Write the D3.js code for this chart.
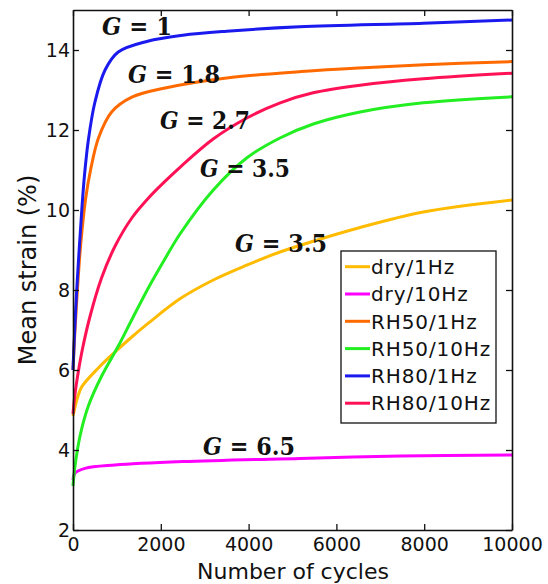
<!DOCTYPE html>
<html><head><meta charset="utf-8">
<script src="https://cdn.jsdelivr.net/npm/d3@7"></script>
<style>body{margin:0;background:#fff}svg{display:block}</style>
</head><body>
<script>
// ---- data (cycles, mean strain %) ----
const seriesNames = ["dry/1Hz","dry/10Hz","RH50/1Hz","RH50/10Hz","RH80/1Hz","RH80/10Hz"];
const seriesColors = ["#ffbb00","#ff00ff","#ff6a00","#22ee22","#1a1aee","#ff1155"];
const dry1Hz = [[0,4.85],[100,5.3],[200,5.58],[577,6.05],[957,6.45],[1260,6.75],[1716,7.17],[2437,7.78],[3196,8.25],[3956,8.62],[4715,8.95],[5474,9.22],[6500,9.55],[7980,9.95],[10000,10.25]];
const dry10Hz = [[0,3.25],[45,3.42],[273,3.54],[957,3.625],[2500,3.71],[5170,3.79],[7450,3.85],[10000,3.875]];
const rh50_1Hz = [[0,6.0],[40,6.9],[100,8.0],[180,9.2],[290,10.3],[400,11.0],[580,11.8],[880,12.45],[1340,12.82],[2100,13.05],[3500,13.3],[5200,13.46],[6500,13.55],[8000,13.63],[10000,13.71]];
const rh50_10Hz = [[0,3.1],[40,3.55],[160,4.35],[349,5.1],[653,5.85],[1032,6.6],[1336,7.25],[1716,8.05],[2096,8.78],[2437,9.4],[3196,10.5],[3956,11.3],[4715,11.8],[5474,12.15],[6540,12.45],[7980,12.68],[10000,12.83]];
const rh80_1Hz = [[0,6.0],[30,6.8],[80,7.9],[140,9.0],[200,10.0],[260,10.85],[350,11.75],[500,12.7],[730,13.5],[1030,13.95],[1700,14.22],[2500,14.37],[3500,14.47],[5160,14.58],[7980,14.67],[10000,14.75]];
const rh80_10Hz = [[0,4.9],[40,5.35],[120,5.95],[220,6.55],[390,7.35],[650,8.3],[960,9.1],[1340,9.8],[1720,10.3],[2100,10.72],[2450,11.08],[3200,11.78],[3960,12.3],[4720,12.68],[5470,12.93],[6540,13.12],[7980,13.28],[10000,13.42]];
const seriesData = [dry1Hz, dry10Hz, rh50_1Hz, rh50_10Hz, rh80_1Hz, rh80_10Hz];
const xTicks = [0,2000,4000,6000,8000,10000];
const yTicks = [2,4,6,8,10,12,14];
const annoLabels = ["1","1.8","2.7","3.5","3.5","6.5"];
const annoPos = [[102,35,70],[128,83,92],[160,129,90],[200,177,90],[235,252,92],[203,455,92]];
const xLabel = "Number of cycles";
const yLabel = "Mean strain (%)";

const W=548,H=584;
const svg=d3.select("body").append("svg").attr("width",W).attr("height",H);
svg.append("rect").attr("width",W).attr("height",H).attr("fill","#fff");
const x=d3.scaleLinear().domain([0,10000]).range([73,512]);
const y=d3.scaleLinear().domain([2,15]).range([530,10]);
const font="DejaVu Sans, Verdana, sans-serif";

// lines
const line=d3.line().x(d=>x(d[0])).y(d=>y(d[1])).curve(d3.curveCatmullRom.alpha(0.5));
const g=svg.append("g");
seriesData.forEach((s,i)=>{
  g.append("path").attr("d",line(s)).attr("fill","none").attr("stroke",seriesColors[i]).attr("stroke-width",3).attr("stroke-linejoin","round");
});

// axes with inward ticks on all sides
function styleAxis(sel){sel.select(".domain").attr("stroke","#111").attr("stroke-width",1.6);sel.selectAll(".tick line").attr("stroke","#111").attr("stroke-width",1.3);sel.selectAll("text").attr("font-family",font).attr("font-size",19).attr("fill","#111");}
svg.append("g").attr("transform","translate(0,530)").call(d3.axisBottom(x).tickValues(xTicks).tickSizeInner(-6).tickSizeOuter(0).tickPadding(8).tickFormat(d3.format("d"))).call(styleAxis);
svg.append("g").attr("transform","translate(0,10)").call(d3.axisTop(x).tickValues(xTicks).tickSizeInner(-6).tickSizeOuter(0).tickFormat("")).call(styleAxis);
svg.append("g").attr("transform","translate(73,0)").call(d3.axisLeft(y).tickValues(yTicks).tickSizeInner(-6).tickSizeOuter(0).tickPadding(3)).call(styleAxis);
svg.append("g").attr("transform","translate(512,0)").call(d3.axisRight(y).tickValues(yTicks).tickSizeInner(-6).tickSizeOuter(0).tickFormat("")).call(styleAxis);

// axis labels
svg.append("text").attr("x",293).attr("y",579).attr("text-anchor","middle").attr("font-family",font).attr("font-size",22).attr("fill","#111").text(xLabel);
svg.append("text").attr("transform","translate(36,270) rotate(-90)").attr("text-anchor","middle").attr("font-family",font).attr("font-size",24).attr("fill","#111").text(yLabel);

// annotations
annoLabels.forEach((lab,i)=>{
  const p=annoPos[i];
  const t=svg.append("text").attr("x",p[0]).attr("y",p[1]).attr("font-family","DejaVu Serif, serif").attr("font-weight","bold").attr("font-size",24).attr("fill","#111")
    .attr("textLength",p[2]).attr("lengthAdjust","spacingAndGlyphs");
  t.append("tspan").attr("font-style","italic").text("G");
  t.append("tspan").text(" = "+lab);
});

// legend
const lg=svg.append("g");
lg.append("rect").attr("x",341).attr("y",251).attr("width",155).attr("height",172).attr("fill","#fff").attr("stroke","#111").attr("stroke-width",1.3);
seriesNames.forEach((n,i)=>{
  const yy=266.7+i*27.3;
  lg.append("line").attr("x1",345).attr("x2",370).attr("y1",yy).attr("y2",yy).attr("stroke",seriesColors[i]).attr("stroke-width",3);
  lg.append("text").attr("x",371).attr("y",yy).attr("dy","0.36em").attr("font-family",font).attr("font-size",20).attr("letter-spacing",0.9).attr("fill","#111").text(n);
});
</script>
</body></html>
